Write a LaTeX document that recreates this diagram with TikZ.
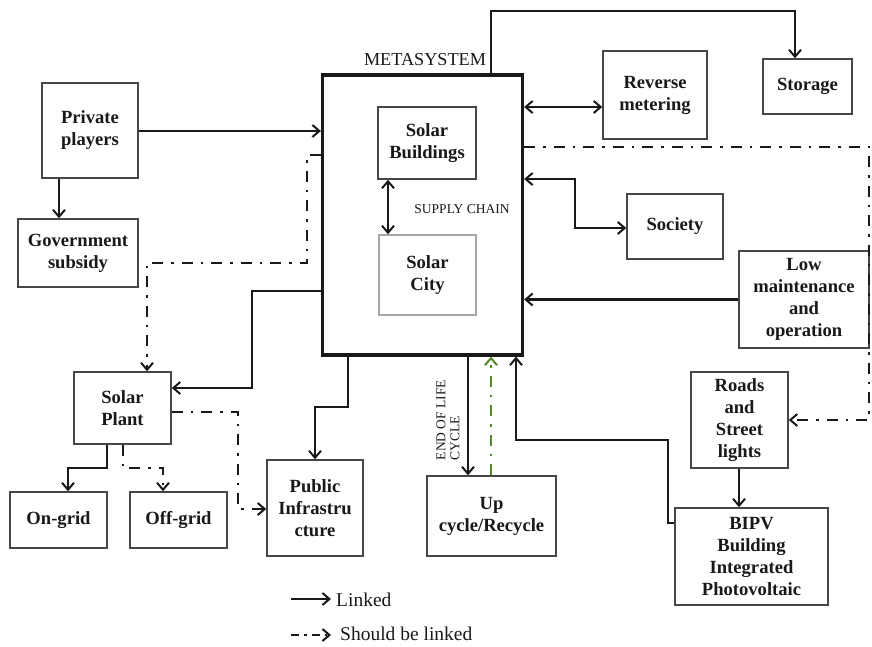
\documentclass[tikz,border=0pt]{standalone}
\usepackage{fontspec}
\setmainfont{Liberation Serif}
\usetikzlibrary{arrows.meta,calc}
\definecolor{edge}{RGB}{70,70,70}
\definecolor{ink}{RGB}{25,25,25}
\definecolor{dgreen}{RGB}{85,135,45}
\tikzset{
  box/.style={draw=edge, line width=1.5pt, inner sep=1pt, align=center, text=ink,
    font=\bfseries\fontsize{18.6}{22}\selectfont},
  tipb/.tip={Straight Barb[length=7pt,width=12pt,line width=2pt]},
  link/.style={draw=ink, line width=2.2pt, -tipb},
  dlink/.style={draw=ink, line width=2.2pt, tipb-tipb},
  dashdot/.style={draw=ink, line width=2.1pt, dash pattern=on 11pt off 8pt on 2.5pt off 8pt},
  dtip/.style={-tipb},
  small/.style={text=ink, font=\fontsize{13.5}{14}\selectfont},
}
\begin{document}
\begin{tikzpicture}[x=1pt,y=-1pt]
\useasboundingbox (0,0) rectangle (872,646);
\fill[white] (0,0) rectangle (872,646);

% metasystem
\node[draw=ink, line width=3.2pt, minimum width=200pt, minimum height=280pt, inner sep=0pt] (meta) at (422.5,215) {};
\node[text=ink, font=\fontsize{18.2}{20}\selectfont] (metalab) at (425,60) {METASYSTEM};

\node[box, minimum width=98pt, minimum height=72pt] (sb) at (427,143) {Solar\\Buildings};
\node[box, draw=black!35, minimum width=97pt, minimum height=80pt] (sc) at (427.5,275) {Solar\\City};
\node[small] (supply) at (462,209) {SUPPLY CHAIN};

\node[box, minimum width=96pt, minimum height=95pt] (pp) at (90,130.5) {Private\\players};
\node[box, minimum width=120pt, minimum height=68pt] (gov) at (78,253) {Government\\subsidy};
\node[box, minimum width=97pt, minimum height=72pt] (sp) at (122.5,408) {Solar\\Plant};
\node[box, minimum width=97pt, minimum height=56pt] (on) at (58.5,520) {On-grid};
\node[box, minimum width=97pt, minimum height=56pt] (off) at (178.5,520) {Off-grid};
\node[box, minimum width=96pt, minimum height=96pt] (pub) at (315,508) {Public\\Infrastru\\cture};
\node[box, minimum width=129pt, minimum height=80pt] (up) at (491.5,516) {Up\\cycle/Recycle};
\node[box, minimum width=153pt, minimum height=97pt] (bipv) at (751.5,556.5) {BIPV\\Building\\Integrated\\Photovoltaic};
\node[box, minimum width=97pt, minimum height=96pt] (roads) at (739.5,420) {Roads\\and\\Street\\lights};
\node[box, minimum width=130pt, minimum height=97pt] (low) at (804,299.5) {Low\\maintenance\\and\\operation};
\node[box, minimum width=96pt, minimum height=65pt] (soc) at (675,226.5) {Society};
\node[box, minimum width=104pt, minimum height=88pt] (rev) at (655,95) {Reverse\\metering};
\node[box, minimum width=89pt, minimum height=55pt] (sto) at (807.5,86.5) {Storage};

\node[small, rotate=90, align=left] (eol) at (448,420) {END OF LIFE\\CYCLE};

% connectors
\draw[link] (491,0 |- meta.north) -- (491,11) -- (795,11) -- (795,0 |- sto.north);
\draw[dlink] (meta.east |- 0,107) -- (rev.west |- 0,107);
\draw[dashdot, dtip] (meta.east |- 0,147) -- (869,147) -- (869,420) -- (roads.east |- 0,420);
\draw[dlink] (meta.east |- 0,179) -- (575,179) -- (575,228) -- (soc.west |- 0,228);
\draw[link] (low.west) -- (meta.east |- low.west);
\draw[link] (pp.east |- 0,131) -- (meta.west |- 0,131);
\draw[link] (59,0 |- pp.south) -- (59,0 |- gov.north);
\draw[dashdot, dtip] (meta.west |- 0,155) -- (307,155) -- (307,263) -- (147,263) -- (147,0 |- sp.north);
\draw[link] (meta.west |- 0,291) -- (252,291) -- (252,388) -- (sp.east |- 0,388);
\draw[dashdot, dtip] (sp.east |- 0,412) -- (238,412) -- (238,509) -- (pub.west |- 0,509);
\draw[link] (348,0 |- meta.south) -- (348,407) -- (315,407) -- (pub.north);
\draw[link] (107,0 |- sp.south) -- (107,468) -- (68,468) -- (68,0 |- on.north);
\draw[dashdot, dtip] (123,0 |- sp.south) -- (123,468) -- (163,468) -- (163,0 |- off.north);
\draw[link] (468,0 |- meta.south) -- (468,0 |- up.north);
\draw[dashdot, draw=dgreen, dtip] (491,0 |- up.north) -- (491,0 |- meta.south);
\draw[link] (bipv.west |- 0,523) -- (668,523) -- (668,440) -- (516,440) -- (516,0 |- meta.south);
\draw[link] (739,0 |- roads.south) -- (739,0 |- bipv.north);
\draw[dlink] (388,0 |- sb.south) -- (388,0 |- sc.north);

% legend
\coordinate (la) at (291,599);
\coordinate (lb) at (331,599);
\coordinate (lc) at (291,635);
\coordinate (ld) at (331,635);
\draw[link] (la) -- (lb);
\draw[dashdot, dtip, dash pattern=on 8pt off 5pt on 2.5pt off 5pt] (lc) -- (ld);
\node[anchor=west, text=ink, font=\fontsize{19.5}{22}\selectfont, inner sep=0pt] (linked) at (336,600) {Linked};
\node[anchor=west, text=ink, font=\fontsize{19.5}{22}\selectfont, inner sep=0pt] (should) at (340,634) {Should be linked};
\end{tikzpicture}
\end{document}
